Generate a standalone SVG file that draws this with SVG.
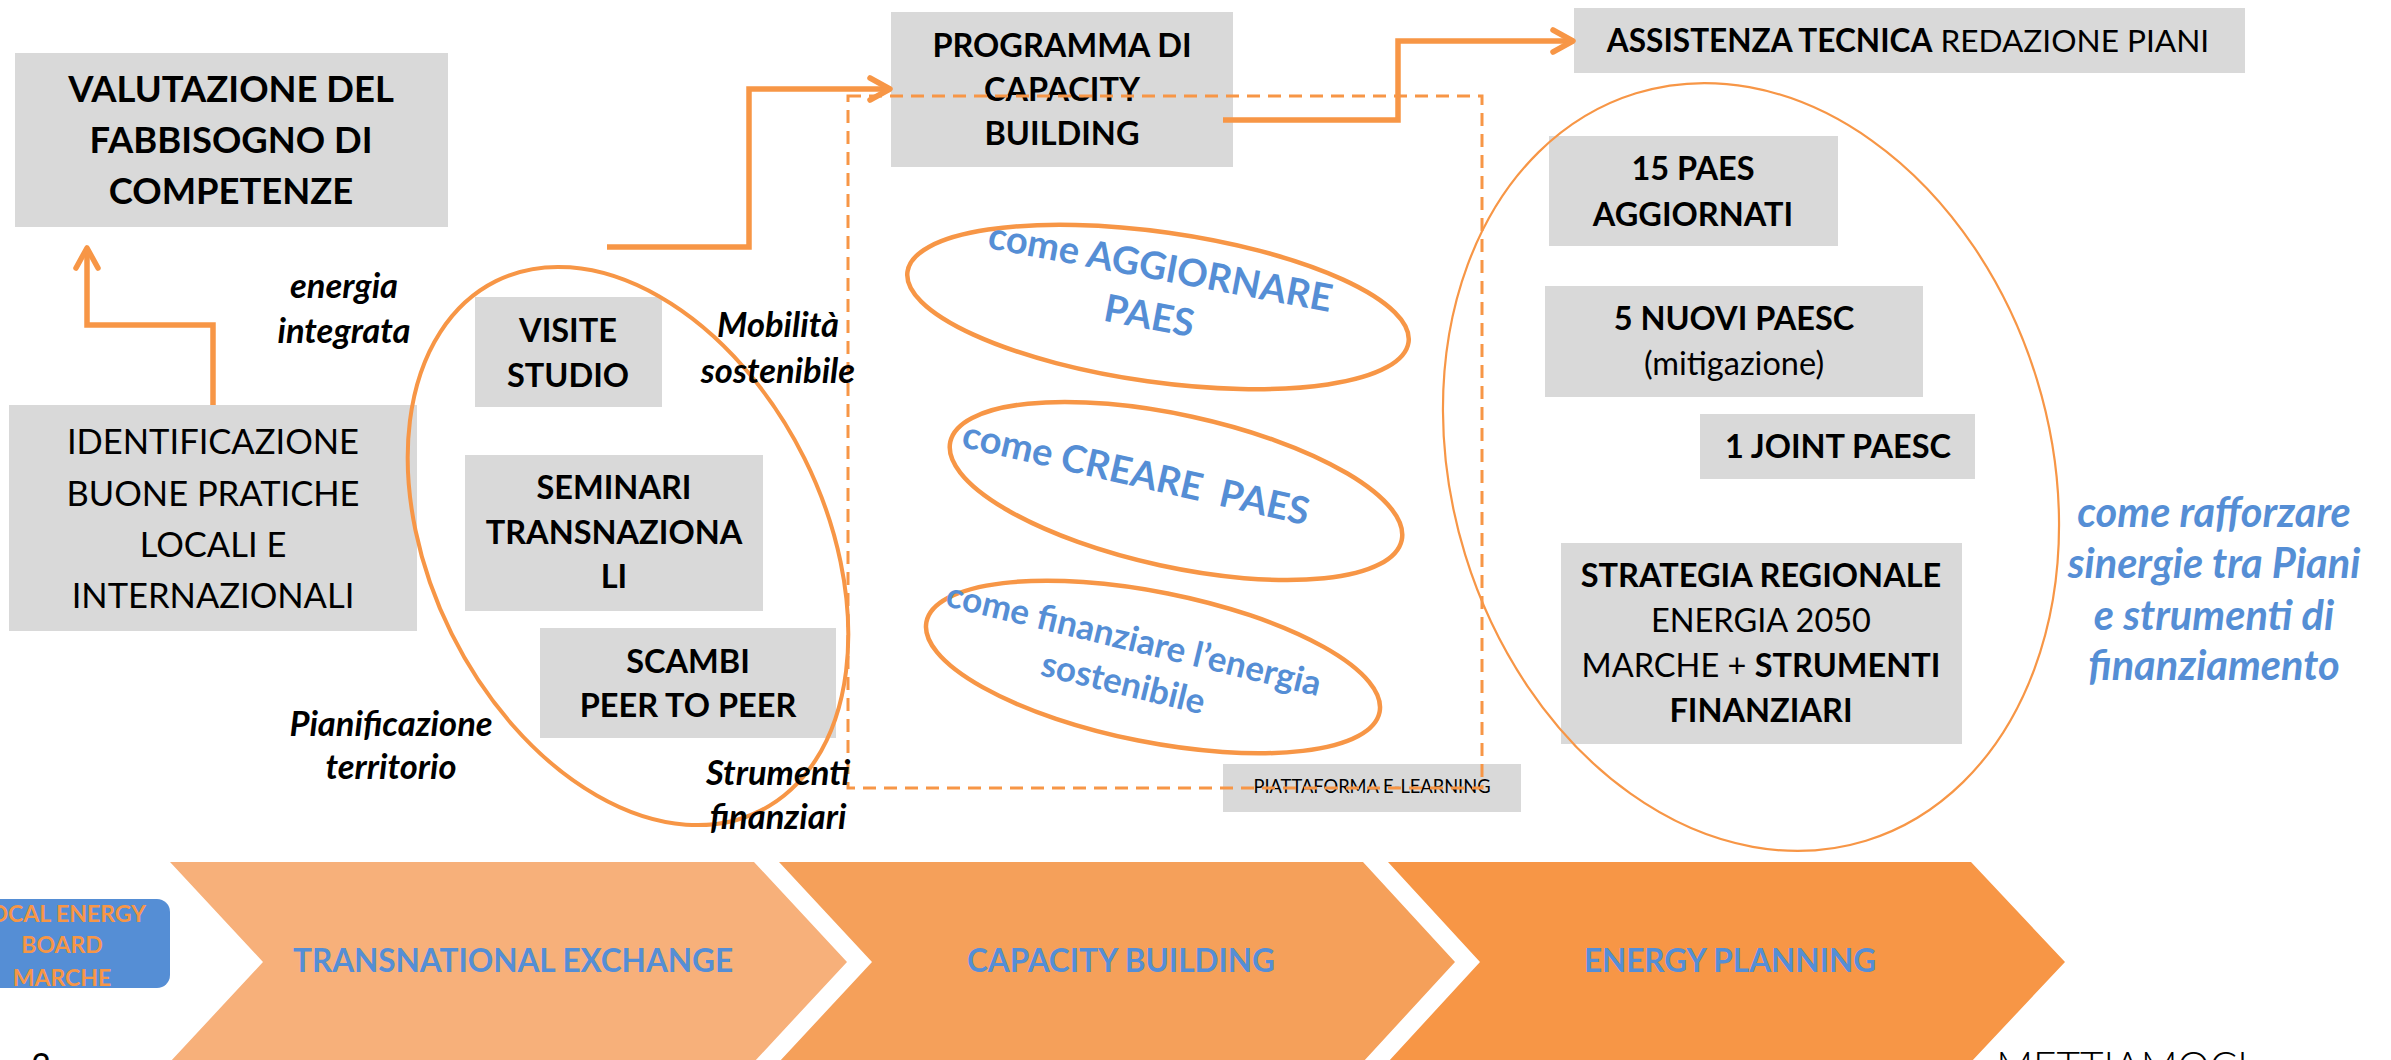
<svg xmlns="http://www.w3.org/2000/svg" width="2391" height="1060" viewBox="0 0 2391 1060">
<defs>
<style>
text{font-family:Lato,"Open Sans","Liberation Sans",sans-serif;text-anchor:middle;fill:#000}
.box{fill:#D9D9D9}
.b{font-weight:700}
.n{font-weight:400}
.it{font-style:italic;font-weight:700;font-size:34.5px}
.blue{fill:#558ED5}
.f32{font-size:32.5px}
.ell{fill:none;stroke:#F79646}
.mid{stroke-width:4.5}
.conn{fill:none;stroke:#F79646;stroke-width:5.5;stroke-linejoin:miter;marker-end:url(#arr)}
.dash{fill:none;stroke:#F79646;stroke-width:3;stroke-dasharray:13 8}
.chev-t{font-size:31.5px;font-weight:700;fill:#558ED5}
.ct{font-size:38px;font-weight:700;fill:#558ED5}
</style>
<marker id="arr" markerUnits="userSpaceOnUse" markerWidth="34" markerHeight="34" refX="24" refY="14" orient="auto" viewBox="0 0 34 34">
<path d="M4,3 L24,14 L4,25" fill="none" stroke="#F79646" stroke-width="5.5" stroke-linecap="round" stroke-linejoin="round"/>
</marker>
</defs>
<rect width="2391" height="1060" fill="#fff"/>

<g id="phases">
<polygon points="170,862 754,862 847,962 754,1062 170,1062 263,962" fill="#F7B07A"/>
<polygon points="779,862 1363,862 1455,962 1363,1062 779,1062 872,962" fill="#F5A05A"/>
<polygon points="1388,862 1971,862 2065,962 1971,1062 1388,1062 1480,962" fill="#F79646"/>
<text class="chev-t" x="513" y="972">TRANSNATIONAL EXCHANGE</text>
<text class="chev-t" x="1121" y="972">CAPACITY BUILDING</text>
<text class="chev-t" x="1730" y="972">ENERGY PLANNING</text>
</g>

<g id="local-energy-board">
<rect x="-30" y="899" width="200" height="89" rx="13" fill="#558ED5"/>
<text class="b" x="62" y="922" style="font-size:23px;fill:#F79646">LOCAL ENERGY</text>
<text class="b" x="62" y="953" style="font-size:23px;fill:#F79646">BOARD</text>
<text class="b" x="62" y="986" style="font-size:23px;fill:#F79646">MARCHE</text>
</g>

<g id="valutazione">
<rect class="box" x="15" y="53" width="433" height="174"/>
<text class="b" x="231" y="102" style="font-size:36.4px">VALUTAZIONE DEL</text>
<text class="b" x="231" y="153" style="font-size:36.4px">FABBISOGNO DI</text>
<text class="b" x="231" y="204" style="font-size:36.4px">COMPETENZE</text>
</g>

<g id="identificazione">
<rect class="box" x="9" y="405" width="408" height="226"/>
<text class="n" x="213" y="454" style="font-size:34.5px">IDENTIFICAZIONE</text>
<text class="n" x="213" y="506" style="font-size:34.5px">BUONE PRATICHE</text>
<text class="n" x="213" y="557" style="font-size:34.5px">LOCALI E</text>
<text class="n" x="213" y="608" style="font-size:34.5px">INTERNAZIONALI</text>
</g>

<g id="visite-studio">
<rect class="box" x="475" y="297" width="187" height="110"/>
<text class="b f32" x="568" y="342">VISITE</text>
<text class="b f32" x="568" y="387">STUDIO</text>
</g>

<g id="seminari">
<rect class="box" x="465" y="455" width="298" height="156"/>
<text class="b f32" x="614" y="499">SEMINARI</text>
<text class="b f32" x="614" y="544">TRANSNAZIONA</text>
<text class="b f32" x="614" y="588">LI</text>
</g>

<g id="scambi">
<rect class="box" x="540" y="628" width="296" height="110"/>
<text class="b f32" x="688" y="673">SCAMBI</text>
<text class="b f32" x="688" y="717">PEER TO PEER</text>
</g>

<g id="programma">
<rect class="box" x="891" y="12" width="342" height="155"/>
<text class="b f32" x="1062" y="57">PROGRAMMA DI</text>
<text class="b f32" x="1062" y="101">CAPACITY</text>
<text class="b f32" x="1062" y="145">BUILDING</text>
</g>

<g id="piattaforma">
<rect class="box" x="1223" y="764" width="298" height="48"/>
<text class="n" x="1372" y="793" style="font-size:18.3px">PIATTAFORMA E-LEARNING</text>
</g>

<g id="assistenza">
<rect class="box" x="1574" y="8" width="671" height="65"/>
<text x="1908" y="52" style="font-size:31.6px"><tspan class="b">ASSISTENZA TECNICA</tspan><tspan class="n"> REDAZIONE PIANI</tspan></text>
</g>

<g id="paes-aggiornati">
<rect class="box" x="1549" y="136" width="289" height="110"/>
<text class="b f32" x="1693" y="180">15 PAES</text>
<text class="b f32" x="1693" y="226">AGGIORNATI</text>
</g>

<g id="nuovi-paesc">
<rect class="box" x="1545" y="286" width="378" height="111"/>
<text class="b f32" x="1734" y="330">5 NUOVI PAESC</text>
<text class="n f32" x="1734" y="375">(mitigazione)</text>
</g>

<g id="joint-paesc">
<rect class="box" x="1700" y="414" width="275" height="65"/>
<text class="b f32" x="1838" y="458">1 JOINT PAESC</text>
</g>

<g id="strategia">
<rect class="box" x="1561" y="543" width="401" height="201"/>
<text class="b f32" x="1761" y="587">STRATEGIA REGIONALE</text>
<text class="n f32" x="1761" y="632">ENERGIA 2050</text>
<text class="f32" x="1761" y="677"><tspan class="n">MARCHE + </tspan><tspan class="b">STRUMENTI</tspan></text>
<text class="b f32" x="1761" y="722">FINANZIARI</text>
</g>

<g id="come-aggiornare">
<ellipse class="ell mid" cx="1158" cy="307" rx="253" ry="75" transform="rotate(8 1158 307)"/>
<g transform="translate(1158 280) rotate(10.6)">
<text class="ct" x="0" y="0">come AGGIORNARE</text>
<text class="ct" x="-2" y="50">PAES</text>
</g>
</g>

<g id="come-creare">
<ellipse class="ell mid" cx="1176" cy="491" rx="231" ry="76" transform="rotate(12.3 1176 491)"/>
<text class="ct" transform="translate(1133 486) rotate(12.8)" x="0" y="0" xml:space="preserve">come CREARE  PAES</text>
</g>

<g id="come-finanziare">
<ellipse class="ell mid" cx="1153" cy="667" rx="231" ry="75" transform="rotate(11.25 1153 667)"/>
<g transform="translate(1131 651) rotate(13.6)">
<text class="ct" x="0" y="0" style="font-size:35px">come finanziare l’energia</text>
<text class="ct" x="0" y="45" style="font-size:35px">sostenibile</text>
</g>
</g>

<g id="transnational-group">
<ellipse class="ell" cx="628" cy="546" rx="197" ry="296" stroke-width="4" transform="rotate(-26.5 628 546)"/>
</g>

<g id="planning-group">
<ellipse class="ell" cx="1751" cy="467" rx="299" ry="391" stroke-width="2.2" transform="rotate(-17.1 1751 467)"/>
</g>

<g id="elearning-frame">
<rect class="dash" x="848" y="96" width="634" height="692"/>
</g>

<g id="connectors">
<path class="conn" d="M213,405 V325 H87 V248"/>
<path class="conn" d="M607,247 H749 V89 H890"/>
<path class="conn" d="M1223,120 H1398 V41 H1573"/>
</g>

<g id="theme-labels">
<text class="it" x="344" y="298">energia</text>
<text class="it" x="344" y="343">integrata</text>
<text class="it" x="778" y="337">Mobilità</text>
<text class="it" x="778" y="383">sostenibile</text>
<text class="it" x="391" y="736">Pianificazione</text>
<text class="it" x="391" y="779">territorio</text>
<text class="it" x="778" y="785">Strumenti</text>
<text class="it" x="778" y="829">finanziari</text>
<text class="it blue" x="2214" y="527" style="font-size:41.5px">come rafforzare</text>
<text class="it blue" x="2214" y="578" style="font-size:41.5px">sinergie tra Piani</text>
<text class="it blue" x="2214" y="630" style="font-size:41.5px">e strumenti di</text>
<text class="it blue" x="2214" y="680" style="font-size:41.5px">finanziamento</text>
</g>

<g id="footer">
<text class="n" x="41" y="1078" style="font-size:34px">2</text>
<text x="2122" y="1081" style="font-size:40.6px;font-weight:300">METTIAMOCI</text>
</g>
</svg>
